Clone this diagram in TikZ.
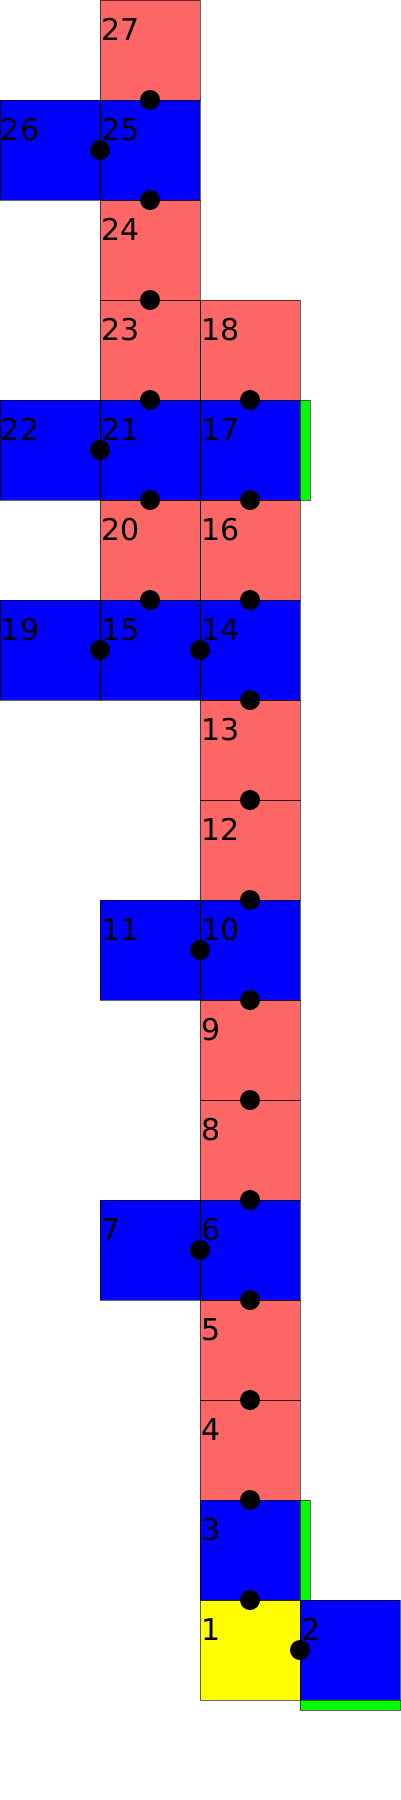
\documentclass[tikz,border=0pt]{standalone}
\usepackage{fontspec}
\setmainfont{DejaVu Sans}
\usetikzlibrary{calc}
\definecolor{cred}{HTML}{FF6666}
\definecolor{cblue}{HTML}{0000FF}
\definecolor{cyel}{HTML}{FFFF00}
\definecolor{cgreen}{HTML}{00FF00}
\tikzset{
  cellbox/.style={rectangle, minimum width=100pt, minimum height=100pt,
    inner sep=0pt, outer sep=0pt},
  redc/.style={cellbox, fill=cred},
  bluec/.style={cellbox, fill=cblue},
  yelc/.style={cellbox, fill=cyel},
  outl/.style={draw=black, draw opacity=0.6, line width=1pt},
  gbar/.style={rectangle, outl, fill=cgreen, inner sep=0pt, outer sep=0pt},
  lbl/.style={anchor=base west, inner sep=0pt, outer sep=0pt,
    font=\fontsize{30}{36}\selectfont, text=black},
  dotm/.style={circle, fill=black, minimum size=20pt, inner sep=0pt, outer sep=0pt}
}
\newcommand\mkcell[4]{%
  \node[#4] (c#1) at (#2+50,#3+50) {};}
\newcommand\mkdot[2]{\node[dotm] (d#1x#2) at ($(c#1)!0.5!(c#2)$) {};}
\begin{document}
\begin{tikzpicture}[x=1pt,y=-1pt]
\useasboundingbox (0,0) rectangle (400,1800);
\mkcell{27}{100}{0}{redc}
\mkcell{26}{0}{100}{bluec}
\mkcell{25}{100}{100}{bluec}
\mkcell{24}{100}{200}{redc}
\mkcell{23}{100}{300}{redc}
\mkcell{18}{200}{300}{redc}
\mkcell{22}{0}{400}{bluec}
\mkcell{21}{100}{400}{bluec}
\mkcell{17}{200}{400}{bluec}
\mkcell{20}{100}{500}{redc}
\mkcell{16}{200}{500}{redc}
\mkcell{19}{0}{600}{bluec}
\mkcell{15}{100}{600}{bluec}
\mkcell{14}{200}{600}{bluec}
\mkcell{13}{200}{700}{redc}
\mkcell{12}{200}{800}{redc}
\mkcell{11}{100}{900}{bluec}
\mkcell{10}{200}{900}{bluec}
\mkcell{9}{200}{1000}{redc}
\mkcell{8}{200}{1100}{redc}
\mkcell{7}{100}{1200}{bluec}
\mkcell{6}{200}{1200}{bluec}
\mkcell{5}{200}{1300}{redc}
\mkcell{4}{200}{1400}{redc}
\mkcell{3}{200}{1500}{bluec}
\mkcell{1}{200}{1600}{yelc}
\mkcell{2}{300}{1600}{bluec}
% outlines
\foreach \n in {1,...,27}
  \draw[outl] (c\n.north west) rectangle (c\n.south east);
% green bars
\node[gbar, minimum width=10pt, minimum height=100pt, anchor=north west] (g17) at (c17.north east) {};
\node[gbar, minimum width=10pt, minimum height=100pt, anchor=north west] (g3) at (c3.north east) {};
\node[gbar, minimum width=100pt, minimum height=10pt, anchor=north west] (g2) at (c2.south west) {};
% labels
\foreach \n in {1,...,27}
  \node[lbl] (t\n) at ([xshift=1pt,yshift=-40pt]c\n.north west) {\n};
% connection dots
\mkdot{27}{25}
\mkdot{26}{25}
\mkdot{25}{24}
\mkdot{24}{23}
\mkdot{23}{21}
\mkdot{18}{17}
\mkdot{22}{21}
\mkdot{21}{20}
\mkdot{17}{16}
\mkdot{20}{15}
\mkdot{16}{14}
\mkdot{19}{15}
\mkdot{15}{14}
\mkdot{14}{13}
\mkdot{13}{12}
\mkdot{12}{10}
\mkdot{11}{10}
\mkdot{10}{9}
\mkdot{9}{8}
\mkdot{8}{6}
\mkdot{7}{6}
\mkdot{6}{5}
\mkdot{5}{4}
\mkdot{4}{3}
\mkdot{3}{1}
\mkdot{1}{2}
\end{tikzpicture}
\end{document}
